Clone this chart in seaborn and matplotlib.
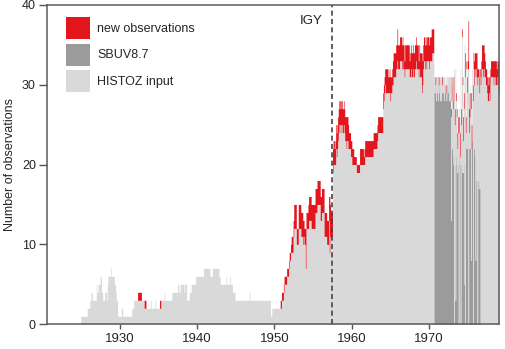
import numpy as np
import pandas as pd
import matplotlib
matplotlib.use("Agg")
import matplotlib.pyplot as plt
from matplotlib.patches import Patch
import seaborn as sns

# monthly number of observations, one row per year (Jan..Dec)
first_year = 1924
histoz = [
    0, 0, 0, 0, 0, 0, 0, 0, 0, 0, 0, 0,          # 1924
    1, 1, 1, 1, 1, 1, 1, 1, 1, 1, 2, 2,          # 1925
    2, 2, 3, 3, 4, 4, 3, 3, 3, 3, 3, 3,          # 1926
    5, 4, 4, 5, 5, 5, 6, 6, 4, 4, 3, 3,          # 1927
    3, 4, 4, 4, 3, 5, 6, 6, 6, 6, 7, 6,          # 1928
    6, 6, 6, 6, 5, 5, 4, 3, 3, 1, 1, 1,          # 1929
    1, 1, 1, 2, 2, 1, 1, 1, 1, 1, 1, 1,          # 1930
    1, 1, 1, 1, 1, 1, 1, 2, 2, 2, 3, 3,          # 1931
    3, 3, 3, 3, 3, 3, 3, 3, 3, 3, 3, 3,          # 1932
    3, 2, 2, 2, 2, 2, 2, 2, 2, 2, 2, 2,          # 1933
    3, 2, 2, 2, 2, 2, 2, 3, 2, 2, 2, 2,          # 1934
    2, 2, 2, 2, 3, 3, 3, 3, 3, 4, 3, 3,          # 1935
    3, 3, 3, 3, 3, 3, 3, 3, 3, 4, 4, 4,          # 1936
    4, 4, 4, 4, 4, 4, 5, 5, 4, 4, 5, 5,          # 1937
    5, 5, 5, 5, 4, 5, 5, 5, 3, 3, 3, 3,          # 1938
    4, 4, 4, 5, 5, 5, 5, 5, 5, 5, 6, 6,          # 1939
    6, 6, 6, 6, 6, 6, 6, 6, 6, 6, 7, 7,          # 1940
    7, 7, 7, 7, 7, 7, 7, 7, 6, 6, 6, 6,          # 1941
    7, 7, 7, 7, 7, 7, 7, 7, 7, 7, 6, 6,          # 1942
    5, 5, 5, 5, 5, 5, 5, 5, 5, 6, 5, 5,          # 1943
    5, 5, 5, 6, 5, 5, 5, 4, 4, 4, 4, 3,          # 1944
    3, 3, 3, 3, 3, 3, 3, 3, 3, 3, 3, 3,          # 1945
    3, 3, 3, 3, 3, 3, 3, 3, 3, 4, 3, 3,          # 1946
    3, 3, 3, 3, 3, 3, 3, 3, 3, 3, 3, 3,          # 1947
    3, 3, 3, 3, 3, 3, 3, 3, 3, 3, 3, 3,          # 1948
    3, 3, 3, 3, 3, 3, 1, 1, 2, 2, 2, 2,          # 1949
    2, 2, 2, 2, 2, 2, 2, 2, 2, 2, 2, 3,          # 1950
    3, 3, 4, 5, 5, 5, 5, 6, 6, 6, 7, 8,          # 1951
    8, 9, 9, 9, 9, 11, 12, 12, 12, 12, 10, 10,      # 1952
    10, 12, 12, 12, 12, 11, 11, 11, 10, 11, 10, 10, # 1953
    7, 12, 12, 12, 12, 13, 13, 13, 13, 12, 12, 12,  # 1954
    12, 12, 12, 14, 14, 14, 15, 15, 15, 15, 15, 13, # 1955
    13, 14, 14, 14, 14, 11, 11, 11, 11, 10, 10, 10, # 1956
    13, 9, 11, 11, 11, 11, 19, 20, 20, 20, 20, 22,  # 1957
    21, 22, 23, 24, 25, 25, 24, 25, 25, 24, 24, 25, # 1958
    24, 23, 23, 22, 23, 23, 22, 22, 22, 22, 21, 21, # 1959
    20, 20, 20, 20, 20, 20, 20, 19, 19, 19, 19, 19, # 1960
    20, 20, 20, 20, 20, 20, 20, 20, 21, 21, 21, 21, # 1961
    21, 21, 21, 21, 21, 21, 21, 21, 21, 22, 22, 22, # 1962
    22, 22, 22, 23, 24, 24, 24, 24, 24, 24, 24, 24, # 1963
    27, 28, 29, 30, 29, 29, 29, 29, 29, 29, 29, 28, # 1964
    29, 29, 30, 30, 31, 31, 31, 31, 32, 32, 33, 32, # 1965
    32, 32, 33, 33, 33, 32, 33, 32, 32, 31, 32, 32, # 1966
    32, 32, 32, 32, 32, 31, 31, 32, 31, 31, 32, 31, # 1967
    31, 32, 32, 33, 32, 32, 32, 31, 32, 31, 31, 31, # 1968
    29, 30, 32, 33, 33, 32, 33, 32, 33, 33, 33, 32, # 1969
    33, 33, 33, 33, 34, 34, 34, 31, 31, 30, 31, 31, # 1970
    31, 31, 30, 31, 31, 31, 31, 30, 31, 31, 31, 31, # 1971
    30, 31, 29, 31, 31, 31, 31, 31, 31, 26, 28, 30, # 1972
    27, 28, 32, 25, 32, 28, 26, 22, 24, 27, 24, 21, # 1973
    32, 25, 36, 30, 23, 27, 35, 31, 24, 32, 29, 32, # 1974
    32, 24, 26, 30, 27, 22, 32, 28, 32, 30, 32, 31, # 1975
    32, 31, 30, 31, 31, 29, 31, 30, 31, 32, 32, 31, # 1976
    32, 31, 31, 30, 30, 29, 28, 28, 29, 28, 30, 31, # 1977
    31, 31, 31, 30, 31, 31, 30, 30, 30, 31, 30, 29, # 1978
]

new_first_year = 1932
new_obs = [
    0, 0, 0, 0, 1, 1, 1, 1, 1, 1, 0, 0,   # 1932
    0, 0, 1, 1, 1, 0, 0, 0, 0, 0, 0, 0,   # 1933
    0, 0, 0, 0, 0, 0, 0, 0, 0, 0, 0, 0,   # 1934
    0, 0, 1, 1, 0, 0, 0, 0, 0, 0, 0, 0,   # 1935
    0, 0, 0, 0, 0, 0, 0, 0, 0, 0, 0, 0,   # 1936
    0, 0, 0, 0, 0, 0, 0, 0, 0, 0, 0, 0,   # 1937
    0, 0, 0, 0, 0, 0, 0, 0, 0, 0, 0, 0,   # 1938
    0, 0, 0, 0, 0, 0, 0, 0, 0, 0, 0, 0,   # 1939
    0, 0, 0, 0, 0, 0, 0, 0, 0, 0, 0, 0,   # 1940
    0, 0, 0, 0, 0, 0, 0, 0, 0, 0, 0, 0,   # 1941
    0, 0, 0, 0, 0, 0, 0, 0, 0, 0, 0, 0,   # 1942
    0, 0, 0, 0, 0, 0, 0, 0, 0, 0, 0, 0,   # 1943
    0, 0, 0, 0, 0, 0, 0, 0, 0, 0, 0, 0,   # 1944
    0, 0, 0, 0, 0, 0, 0, 0, 0, 0, 0, 0,   # 1945
    0, 0, 0, 0, 0, 0, 0, 0, 0, 0, 0, 0,   # 1946
    0, 0, 0, 0, 0, 0, 0, 0, 0, 0, 0, 0,   # 1947
    0, 0, 0, 0, 0, 0, 0, 0, 0, 0, 0, 0,   # 1948
    0, 0, 0, 0, 0, 0, 0, 0, 0, 0, 0, 0,   # 1949
    0, 0, 0, 0, 0, 0, 0, 0, 0, 1, 1, 1,   # 1950
    1, 1, 1, 1, 1, 1, 1, 1, 1, 1, 1, 1,   # 1951
    1, 1, 2, 2, 2, 2, 3, 3, 3, 3, 2, 2,   # 1952
    2, 3, 3, 3, 3, 3, 3, 3, 3, 2, 2, 2,   # 1953
    5, 2, 2, 2, 3, 3, 3, 3, 3, 3, 3, 3,   # 1954
    3, 3, 3, 3, 3, 3, 3, 3, 3, 3, 3, 3,   # 1955
    3, 3, 3, 3, 3, 3, 3, 3, 3, 3, 3, 3,   # 1956
    3, 7, 4, 3, 3, 3, 3, 3, 3, 2, 3, 3,   # 1957
    3, 3, 3, 3, 3, 3, 3, 3, 3, 3, 3, 3,   # 1958
    3, 3, 3, 4, 3, 3, 3, 2, 2, 2, 2, 2,   # 1959
    2, 2, 2, 1, 1, 1, 1, 1, 1, 1, 1, 1,   # 1960
    2, 2, 2, 2, 2, 2, 1, 2, 2, 2, 2, 2,   # 1961
    2, 2, 2, 2, 2, 2, 2, 2, 2, 2, 2, 2,   # 1962
    2, 2, 2, 2, 2, 2, 2, 2, 2, 2, 2, 2,   # 1963
    2, 2, 2, 2, 3, 3, 3, 3, 2, 2, 3, 3,   # 1964
    2, 2, 2, 3, 3, 3, 3, 3, 3, 3, 4, 3,   # 1965
    3, 3, 3, 3, 3, 3, 3, 3, 3, 2, 3, 3,   # 1966
    3, 3, 3, 3, 3, 2, 3, 3, 3, 3, 3, 3,   # 1967
    3, 3, 3, 3, 3, 3, 3, 2, 3, 3, 3, 3,   # 1968
    5, 3, 3, 3, 3, 3, 3, 3, 3, 3, 3, 3,   # 1969
    3, 3, 3, 4, 3, 3, 3, 0, 0, 1, 0, 0,   # 1970
    0, 0, 1, 0, 0, 0, 0, 1, 0, 0, 0, 0,   # 1971
    0, 0, 1, 0, 0, 0, 0, 0, 0, 1, 3, 0,   # 1972
    1, 3, 0, 2, 0, 1, 1, 2, 2, 0, 2, 3,   # 1973
    0, 2, 1, 1, 3, 2, 0, 3, 2, 1, 2, 1,   # 1974
    6, 3, 3, 0, 2, 3, 0, 2, 2, 3, 2, 3,   # 1975
    2, 3, 2, 1, 1, 2, 1, 1, 2, 3, 3, 4,   # 1976
    3, 3, 2, 2, 2, 2, 2, 3, 2, 2, 2, 2,   # 1977
    2, 2, 2, 3, 2, 2, 3, 3, 2, 2, 3, 4,   # 1978
]

# part of the HISTOZ input that comes from SBUV8.7
sbuv_first_year = 1970
sbuv = [
    0, 0, 0, 0, 0, 0, 0, 29, 30, 29, 28, 30,        # 1970
    29, 28, 29, 30, 28, 29, 28, 29, 30, 29, 28, 29, # 1971
    30, 29, 28, 29, 30, 29, 28, 28, 28, 13, 22, 22, # 1972
    21, 20, 0, 20, 3, 21, 20, 19, 20, 0, 21, 20,    # 1973
    0, 20, 19, 20, 19, 20, 5, 0, 22, 23, 22, 23,    # 1974
    0, 22, 23, 22, 8, 22, 23, 0, 22, 22, 21, 8,     # 1975
    18, 18, 0, 18, 17, 18, 17, 0, 0, 0, 0, 0,       # 1976
]

labels = ["new observations", "SBUV8.7", "HISTOZ input"]
colors = {"new observations": "#e3161e", "SBUV8.7": "#9b9b9b",
          "HISTOZ input": "#d9d9d9"}

n = len(histoz)


def pad(vals, start):
    out = np.zeros(n)
    i = (start - first_year) * 12
    out[i:i + len(vals)] = vals
    return out


t = first_year + (np.arange(n) + 0.5) / 12
hz = np.array(histoz, dtype=float)
sb = pad(sbuv, sbuv_first_year)
nw = pad(new_obs, new_first_year)

df = pd.concat([
    pd.DataFrame({"year": t, "count": sb, "source": "SBUV8.7"}),
    pd.DataFrame({"year": t, "count": hz - sb, "source": "HISTOZ input"}),
    pd.DataFrame({"year": t, "count": nw, "source": "new observations"}),
], ignore_index=True)

sns.set_style("ticks")
plt.rcParams["font.family"] = ["Liberation Sans", "DejaVu Sans"]

fig = plt.figure(figsize=(5.05, 3.49), dpi=100)
ax = fig.add_axes([0.0925, 0.071, 0.8955, 0.915])

sns.histplot(data=df, x="year", weights="count", hue="source",
             hue_order=["new observations", "HISTOZ input", "SBUV8.7"],
             palette=colors, binwidth=1 / 12,
             binrange=(first_year, first_year + n / 12),
             multiple="stack", element="step",
             fill=True, alpha=1, linewidth=0, legend=False, ax=ax)

ax.axvline(1957.5, color="#444444", lw=1.2, ls=(0, (3, 2)))
ax.text(1956.2, 38.0, "IGY", ha="right", va="center", fontsize=9.5,
        color="#222222")

ax.set_xlim(1920.6, 1979.0)
ax.set_ylim(0, 40)
ax.set_xticks([1930, 1940, 1950, 1960, 1970])
ax.set_yticks([0, 10, 20, 30, 40])
ax.set_xlabel("")
ax.set_ylabel("Number of observations", fontsize=9, labelpad=4)
ax.tick_params(axis="x", length=3.6, width=1, color="#555555",
               labelsize=9.5, pad=3)
ax.tick_params(axis="y", length=5.8, width=1, color="#555555", labelsize=9,
               pad=2)
for s in ax.spines.values():
    s.set_color("#5a5a5a")
    s.set_linewidth(1.1)

handles = [Patch(facecolor=colors[l], edgecolor="none") for l in labels]
ax.legend(handles, labels, loc="upper left", bbox_to_anchor=(0.043, 0.962),
          frameon=False, fontsize=9, borderpad=0, borderaxespad=0,
          handlelength=1.9, handleheight=2.33, handletextpad=0.6,
          labelspacing=0.36)

fig.savefig("out.png", dpi=100)
